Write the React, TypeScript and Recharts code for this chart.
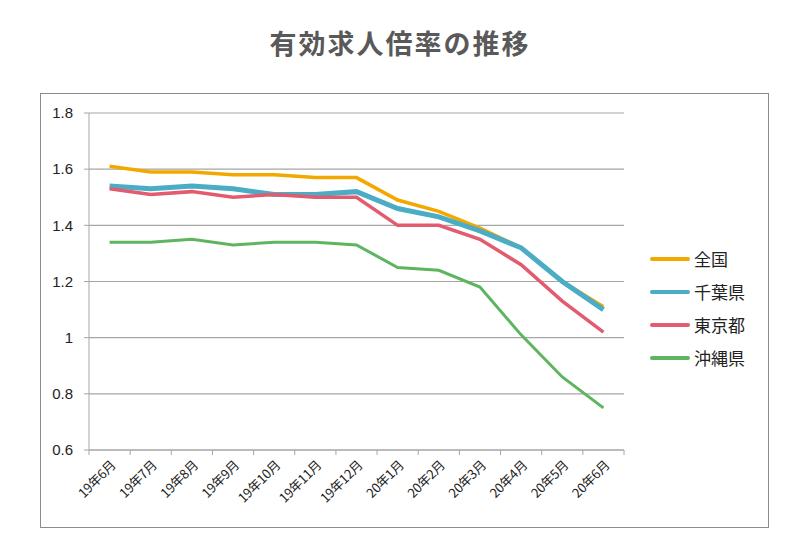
import { CartesianGrid, Line, LineChart, XAxis, YAxis } from 'recharts';

const months = [
  '19年6月', '19年7月', '19年8月', '19年9月', '19年10月', '19年11月', '19年12月',
  '20年1月', '20年2月', '20年3月', '20年4月', '20年5月', '20年6月',
];
const zenkoku = [1.61, 1.59, 1.59, 1.58, 1.58, 1.57, 1.57, 1.49, 1.45, 1.39, 1.32, 1.2, 1.11];
const chiba = [1.54, 1.53, 1.54, 1.53, 1.51, 1.51, 1.52, 1.46, 1.43, 1.38, 1.32, 1.2, 1.1];
const tokyo = [1.53, 1.51, 1.52, 1.5, 1.51, 1.5, 1.5, 1.4, 1.4, 1.35, 1.26, 1.13, 1.02];
const okinawa = [1.34, 1.34, 1.35, 1.33, 1.34, 1.34, 1.33, 1.25, 1.24, 1.18, 1.01, 0.86, 0.75];
const yTicks = [0.6, 0.8, 1, 1.2, 1.4, 1.6, 1.8];

const series = [
  { key: '全国', color: '#F3A800', width: 3.5 },
  { key: '千葉県', color: '#4BACC6', width: 5 },
  { key: '東京都', color: '#E35B6F', width: 3.5 },
  { key: '沖縄県', color: '#5DB55F', width: 3 },
];

const data = months.map((m, i) => ({
  month: m,
  全国: zenkoku[i],
  千葉県: chiba[i],
  東京都: tokyo[i],
  沖縄県: okinawa[i],
}));

const FONT = '"Noto Sans CJK JP", "Noto Sans", sans-serif';
const PLOT_W = 535;
const HALF_BAND = PLOT_W / months.length / 2;
const AXIS_GRAY = '#a6a6a6';

// tick marks sit between categories (Excel style), labels under the centre
const MonthTick = ({ x, y, payload, index, visibleTicksCount }: any) => (
  <g>
    <line x1={x - HALF_BAND} x2={x - HALF_BAND} y1={y} y2={y + 5} stroke={AXIS_GRAY} />
    {index === visibleTicksCount - 1 && (
      <line x1={x + HALF_BAND} x2={x + HALF_BAND} y1={y} y2={y + 5} stroke={AXIS_GRAY} />
    )}
    <g transform={`translate(${x + 7},${y + 16}) rotate(-45)`}>
      <text x={0} y={0} textAnchor="end" fontSize={13} letterSpacing={-0.3} fill="#222" fontFamily={FONT}>
        {payload.value}
      </text>
    </g>
  </g>
);

const LegendBox = () => (
  <div style={{ fontFamily: FONT, fontSize: 17, color: '#222' }}>
    {series.map((s) => (
      <div key={s.key} style={{ display: 'flex', alignItems: 'center', height: 33 }}>
        <div style={{ width: 40, height: 4, background: s.color, borderRadius: 2, marginRight: 4 }} />
        <span>{s.key}</span>
      </div>
    ))}
  </div>
);

export default function App() {
  return (
    <div style={{ position: 'absolute', left: 0, top: 0, width: 800, height: 550, background: '#fff' }}>
      <div
        style={{
          position: 'absolute',
          left: 0,
          top: 23,
          width: 800,
          textAlign: 'center',
          fontFamily: FONT,
          fontWeight: 'bold',
          fontSize: 27,
          letterSpacing: 2,
          color: '#595959',
        }}
      >
        有効求人倍率の推移
      </div>
      <div
        style={{
          position: 'absolute',
          left: 40,
          top: 93,
          width: 727,
          height: 433,
          border: '1px solid #8c8c8c',
        }}
      />
      <div style={{ position: 'absolute', left: 0, top: 0 }}>
        <LineChart width={800} height={550} data={data} margin={{ top: 113, right: 176, bottom: 40, left: 49 }}>
          <CartesianGrid vertical={false} stroke={AXIS_GRAY} strokeWidth={1.2} />
          <XAxis
            dataKey="month"
            tick={<MonthTick />}
            tickLine={false}
            tickSize={0}
            tickMargin={0}
            axisLine={{ stroke: AXIS_GRAY }}
            interval={0}
            height={60}
            padding={{ left: HALF_BAND, right: HALF_BAND }}
          />
          <YAxis
            domain={[0.6, 1.8]}
            ticks={yTicks}
            width={40}
            tickSize={5}
            tickMargin={11}
            tickLine={{ stroke: AXIS_GRAY }}
            axisLine={{ stroke: AXIS_GRAY }}
            tick={{ fontSize: 15, fill: '#222', fontFamily: '"Liberation Sans", sans-serif' }}
          />
          {series.map((s) => (
            <Line
              key={s.key}
              dataKey={s.key}
              stroke={s.color}
              strokeWidth={s.width}
              dot={false}
              isAnimationActive={false}
            />
          ))}
        </LineChart>
      </div>
      <div style={{ position: 'absolute', left: 650, top: 242 }}>
        <LegendBox />
      </div>
    </div>
  );
}
